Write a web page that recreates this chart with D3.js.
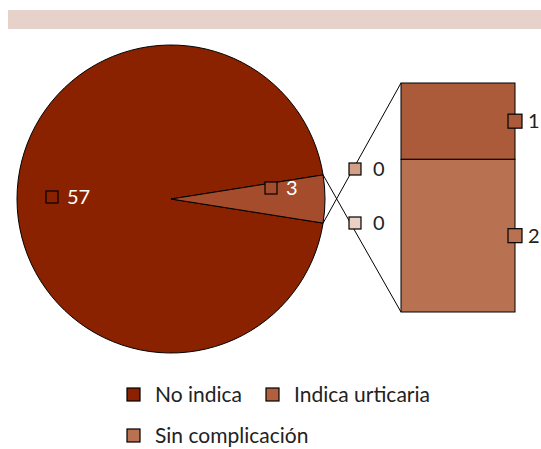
<!doctype html>
<html>
<head>
<meta charset="utf-8">
<script src="https://cdn.jsdelivr.net/npm/d3@7"></script>
<style>
body { margin: 0; background: #fff; }
text { font-family: Lato, "Open Sans", sans-serif; }
</style>
</head>
<body>
<script>
// main pie
var pieNames = ["No indica", "Indica urticaria"];
var pieValues = [57, 3];
var pieColors = ["#8a2200", "#a44c2c"];

// breakdown of the small slice
var barNames = ["Indica urticaria", "Sin complicación", "Otro", "Otro 2"];
var barValues = [1, 2, 0, 0];
var barColors = ["#ab5b3a", "#b87251", "#d39f86", "#ebd0c4"];

var legendNames = ["No indica", "Indica urticaria", "Sin complicación"];
var legendColors = ["#8a2200", "#b0603f", "#b87251"];

var W = 541, H = 449;
var svg = d3.select("body").append("svg").attr("width", W).attr("height", H);

svg.append("rect").attr("x", 8).attr("y", 10).attr("width", W - 8).attr("height", 19)
    .attr("fill", "#e6d1cb");

var cx = 171, cy = 199, r = 154;
var small = pieValues[1] / d3.sum(pieValues) * 2 * Math.PI;
var pie = d3.pie().sort(null)
    .startAngle(Math.PI / 2 + small / 2)
    .endAngle(Math.PI / 2 + small / 2 + 2 * Math.PI);
var arcs = pie(pieValues);
var arc = d3.arc().innerRadius(0).outerRadius(r);

var g = svg.append("g").attr("transform", "translate(" + cx + "," + cy + ")");
g.selectAll("path").data(arcs).enter().append("path")
    .attr("d", arc)
    .attr("fill", function(d, i) { return pieColors[i]; })
    .attr("stroke", "#000").attr("stroke-width", 1);

// pie labels
var labelR = [119, 100];
arcs.forEach(function(d, i) {
    var a = (d.startAngle + d.endAngle) / 2;
    var lx = Math.sin(a) * labelR[i], ly = -Math.cos(a) * labelR[i] - (i == 1 ? 11 : 2);
    g.append("rect").attr("x", lx - 6).attr("y", ly - 6).attr("width", 12).attr("height", 12)
        .attr("fill", pieColors[i]).attr("stroke", "#000").attr("stroke-width", 1.2);
    g.append("text").attr("x", lx + 15).attr("y", ly + 7)
        .attr("fill", "#fff").attr("font-size", 20).text(pieValues[i]);
});

// bar of pie
var bx0 = 401, bx1 = 515;
var y = d3.scaleLinear().domain([0, d3.sum(barValues)]).range([83, 312]);
var stackVals = [];
var acc = 0;
barValues.forEach(function(v, i) { stackVals.push({ v: v, y0: acc, y1: acc + v, c: barColors[i] }); acc += v; });

// connector lines
var a0 = arcs[1].startAngle, a1 = arcs[1].endAngle;
svg.append("line")
    .attr("x1", cx + Math.sin(a1) * r).attr("y1", cy - Math.cos(a1) * r)
    .attr("x2", bx0).attr("y2", y(0)).attr("stroke", "#000");
svg.append("line")
    .attr("x1", cx + Math.sin(a0) * r).attr("y1", cy - Math.cos(a0) * r)
    .attr("x2", bx0).attr("y2", y(acc)).attr("stroke", "#000");

var segs = stackVals.filter(function(d) { return d.v > 0; });
svg.selectAll(".seg").data(segs).enter().append("rect")
    .attr("class", "seg")
    .attr("x", bx0).attr("width", bx1 - bx0)
    .attr("y", function(d) { return y(d.y0); })
    .attr("height", function(d) { return y(d.y1) - y(d.y0); })
    .attr("fill", function(d) { return d.c; })
    .attr("stroke", "#000").attr("stroke-width", 1);

segs.forEach(function(d) {
    var my = (y(d.y0) + y(d.y1)) / 2;
    svg.append("rect").attr("x", bx1 - 7).attr("y", my - 7).attr("width", 14).attr("height", 14)
        .attr("fill", d.c).attr("stroke", "#000").attr("stroke-width", 1.2);
    svg.append("text").attr("x", bx1 + 13).attr("y", my + 7)
        .attr("fill", "#222").attr("font-size", 20).text(d.v);
});

// zero-value labels
var zeros = stackVals.filter(function(d) { return d.v == 0; });
zeros.forEach(function(d, i) {
    var zy = 169 + i * 54;
    svg.append("rect").attr("x", 349).attr("y", zy - 6).attr("width", 12).attr("height", 12)
        .attr("fill", d.c).attr("stroke", "#000").attr("stroke-width", 1.2);
    svg.append("text").attr("x", 373).attr("y", zy + 7)
        .attr("fill", "#222").attr("font-size", 20).text(d.v);
});

// legend
var legPos = [[127, 395], [266, 395], [127, 436]];
legendNames.forEach(function(n, i) {
    svg.append("rect").attr("x", legPos[i][0]).attr("y", legPos[i][1] - 7).attr("width", 13).attr("height", 13)
        .attr("fill", legendColors[i]).attr("stroke", "#000").attr("stroke-width", 1.2);
    svg.append("text").attr("x", legPos[i][0] + 28).attr("y", legPos[i][1] + 7)
        .attr("fill", "#222").attr("font-size", 21).text(n);
});
</script>
</body>
</html>
